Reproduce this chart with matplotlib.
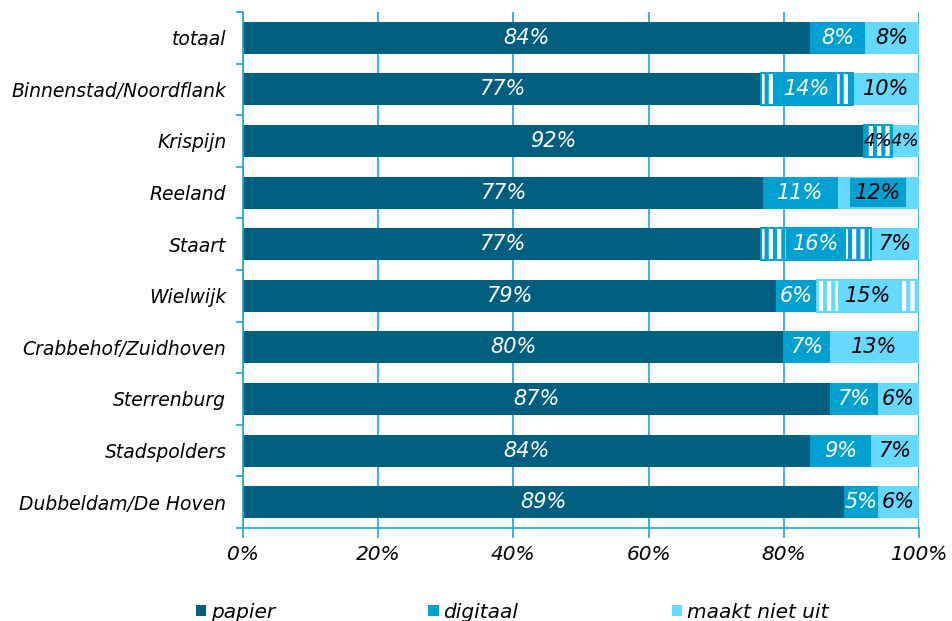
import numpy as np
import matplotlib.pyplot as plt

# Data (shares in %)
categories = ['totaal', 'Binnenstad/Noordflank', 'Krispijn', 'Reeland', 'Staart',
              'Wielwijk', 'Crabbehof/Zuidhoven', 'Sterrenburg', 'Stadspolders',
              'Dubbeldam/De Hoven']
papier = [83.9, 76.6, 91.9, 76.9, 76.6, 78.8, 79.9, 86.8, 83.9, 88.9]
digitaal = [8.1, 13.6, 4.1, 11.1, 16.3, 6.1, 6.9, 7.1, 9.0, 5.0]
maakt_niet_uit = [8.0, 9.8, 4.0, 12.0, 7.1, 15.1, 13.2, 6.1, 7.1, 6.1]
series_names = ['papier', 'digitaal', 'maakt niet uit']

# segments marked with the striped pattern: (category index, series index)
striped = [(1, 1), (2, 1), (4, 1), (5, 2)]
# label with a darker box behind it
boxed = [(3, 2)]
# labels drawn in black instead of white
black_labels = [(2, 1)]

colors = ['#005f80', '#00a0d2', '#66d9ff']
text_colors = ['white', 'white', 'black']
axis_blue = '#1ba3dc'

plt.rcParams['font.family'] = ['DejaVu Sans']
plt.rcParams['hatch.linewidth'] = 3.0

fig = plt.figure(figsize=(9.52, 6.21), dpi=100)
ax = fig.add_axes([0.2553, 0.1498, 0.7100, 0.8309])

y = np.arange(len(categories))
series = [papier, digitaal, maakt_niet_uit]
left = np.zeros(len(categories))
for s, vals in enumerate(series):
    vals = np.array(vals)
    ax.barh(y, vals, left=left, height=0.62, color=colors[s], linewidth=0,
            label=series_names[s], zorder=2)
    for i, v in enumerate(vals):
        bbox = None
        if (i, s) in striped:
            ax.barh(y[i], v, left=left[i], height=0.62, color=colors[s],
                    edgecolor='white', hatch='||', linewidth=0, zorder=3)
            ax.barh(y[i], v, left=left[i], height=0.62, fill=False,
                    edgecolor=colors[s], linewidth=1.5, zorder=4)
            if v > 8:
                bbox = dict(facecolor=colors[s], edgecolor='none', pad=5)
        if (i, s) in boxed:
            bbox = dict(facecolor=colors[1], edgecolor='none', pad=3.5)
        size = 15 if v > 4.5 else 13
        tc = 'black' if (i, s) in black_labels else text_colors[s]
        ax.text(left[i] + v / 2, y[i], f'{round(v):.0f}%', ha='center', va='center',
                color=tc, fontsize=size, style='italic', zorder=5, bbox=bbox)
    left += vals

ax.set_xlim(0, 100)
ax.set_ylim(len(categories) - 0.5, -0.5)
ax.set_xticks(np.arange(0, 101, 20))
ax.set_xticklabels([f'{t}%' for t in range(0, 101, 20)], fontsize=14.5, style='italic')
ax.set_yticks(y)
ax.set_yticklabels(categories, fontsize=13.5, style='italic')
ax.set_yticks(np.arange(-0.5, len(categories), 1), minor=True)
ax.tick_params(axis='y', which='major', length=0, pad=12)
ax.tick_params(axis='y', which='minor', length=5, color=axis_blue, width=1.2)
ax.tick_params(axis='x', which='major', length=7, color=axis_blue, width=1.2, pad=5)

ax.grid(axis='x', color=axis_blue, linewidth=1.2, zorder=1)
ax.set_axisbelow(True)
for side in ['top', 'right']:
    ax.spines[side].set_visible(False)
for side in ['left', 'bottom']:
    ax.spines[side].set_color(axis_blue)
    ax.spines[side].set_linewidth(1.2)

handles, labels = ax.get_legend_handles_labels()
fig.legend(handles[:3], labels[:3], loc='lower center', bbox_to_anchor=(0.538, -0.03),
           ncol=3, frameon=False, handlelength=0.5, handleheight=0.5,
           handletextpad=0.25, columnspacing=7.6,
           prop={'size': 14.5, 'style': 'italic'})

fig.savefig('out.png', dpi=100)
